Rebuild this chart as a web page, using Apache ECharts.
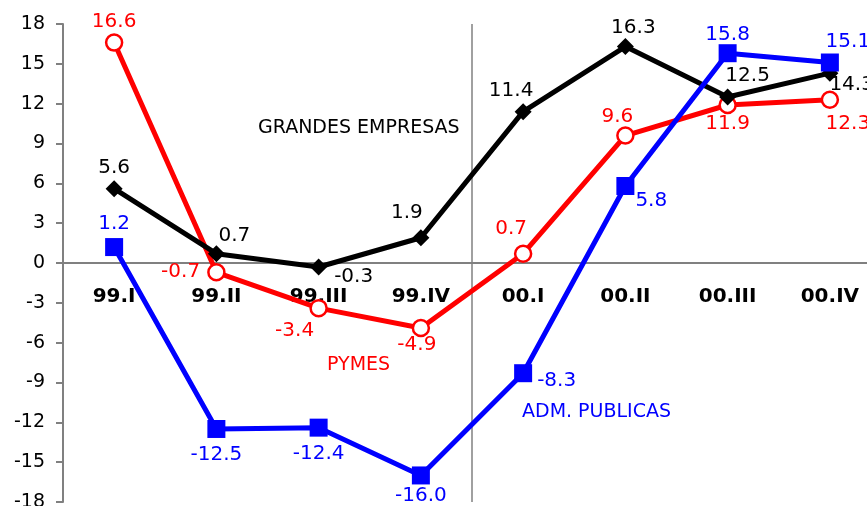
<!DOCTYPE html>
<html>
<head>
<meta charset="utf-8">
<script src="https://cdn.jsdelivr.net/npm/echarts@6/dist/echarts.min.js"></script>
<style>
  html, body { margin: 0; padding: 0; background: #fff; }
  #chart { width: 867px; height: 506px; }
</style>
</head>
<body>
<div id="chart"></div>
<script>
// trimestres
const quarters = ['99.I', '99.II', '99.III', '99.IV', '00.I', '00.II', '00.III', '00.IV']
// series
const grandes = [5.6, 0.7, -0.3, 1.9, 11.4, 16.3, 12.5, 14.3]
const pymes = [16.6, -0.7, -3.4, -4.9, 0.7, 9.6, 11.9, 12.3]
const admPublicas = [1.2, -12.5, -12.4, -16.0, -8.3, 5.8, 15.8, 15.1]
// eje y
const yMin = -18
const yMax = 18
const yStep = 3

const font = 'DejaVu Sans'

// colocacion de etiquetas por punto: [position, offsetX, offsetY]
const lblGrandes = [['top', 0, 3], ['top', 18, 6], ['right', 2, 10], ['top', -14, -1], ['top', -12, 3], ['top', 8, 5], ['top', 20, 2], ['right', -14, 12]]
const lblPymes = [['top', 0, 3], ['left', -2, 0], ['bottom', -24, -2], ['bottom', -4, -8], ['top', -12, -1], ['top', -8, 6], ['bottom', 0, -5], ['bottom', 18, 0]]
const lblAdm = [['top', 0, 1], ['bottom', 0, 2], ['bottom', 0, 2], ['bottom', 0, -4], ['right', 0, 8], ['right', -4, 15], ['top', 0, 6], ['top', 18, 3]]

function buildData(values, lbls) {
  return values.map((v, i) => ({
    value: v,
    label: { position: lbls[i][0], offset: [lbls[i][1], lbls[i][2]] }
  }))
}

function makeSeries(name, values, lbls, color, symbol, size, hollow) {
  return {
    name: name,
    type: 'line',
    data: buildData(values, lbls),
    symbol: symbol,
    symbolSize: size,
    showAllSymbol: true,
    lineStyle: { color: color, width: 5 },
    itemStyle: hollow
      ? { color: '#fff', borderColor: color, borderWidth: 2.5 }
      : { color: color, borderWidth: 0 },
    label: {
      show: true,
      color: color,
      fontFamily: font,
      fontSize: 20,
      distance: 5,
      formatter: (p) => p.value.toFixed(1)
    },
    emphasis: { disabled: true },
    animation: false
  }
}

const chart = echarts.init(document.getElementById('chart'))

const gridTop = 24
const gridBottom = 4
const plotH = 506 - gridTop - gridBottom

const option = {
  backgroundColor: '#fff',
  grid: { left: 63, right: -14, top: gridTop, bottom: gridBottom, containLabel: false, outerBoundsMode: 'none' },
  xAxis: [
    {
      type: 'category',
      data: quarters,
      boundaryGap: true,
      position: 'bottom',
      // eje x sobre el cero
      offset: -plotH * (0 - yMin) / (yMax - yMin),
      axisLine: { onZero: false, lineStyle: { color: '#808080', width: 2 } },
      axisTick: { show: false },
      axisLabel: {
        color: '#000',
        fontFamily: font,
        fontWeight: 'bold',
        fontSize: 20,
        margin: 24
      },
      splitLine: { show: false }
    },
    {
      // solo para la linea vertical entre 99.IV y 00.I
      type: 'value',
      min: 0,
      max: 8,
      interval: 4,
      position: 'top',
      axisLine: { show: false },
      axisTick: { show: false },
      axisLabel: { show: false },
      splitLine: { show: true, lineStyle: { color: '#808080', width: 1.5 } }
    }
  ],
  yAxis: {
    type: 'value',
    min: yMin,
    max: yMax,
    interval: yStep,
    axisLine: { show: true, onZero: false, lineStyle: { color: '#808080', width: 2 } },
    axisTick: { show: true, length: 7, lineStyle: { color: '#808080', width: 2 } },
    axisLabel: { color: '#000', fontFamily: font, fontSize: 19, margin: 18 },
    splitLine: { show: false }
  },
  graphic: [
    { type: 'text', left: 258, top: 119, style: { text: 'GRANDES EMPRESAS', fill: '#000', font: '19px "DejaVu Sans"' } },
    { type: 'text', left: 327, top: 356, style: { text: 'PYMES', fill: '#ff0000', font: '19px "DejaVu Sans"' } },
    { type: 'text', left: 522, top: 403, style: { text: 'ADM. PUBLICAS', fill: '#0000ff', font: '19px "DejaVu Sans"' } }
  ],
  series: [
    makeSeries('PYMES', pymes, lblPymes, '#ff0000', 'circle', 16, true),
    makeSeries('GRANDES EMPRESAS', grandes, lblGrandes, '#000000', 'diamond', 17, false),
    makeSeries('ADM. PUBLICAS', admPublicas, lblAdm, '#0000ff', 'rect', 18, false)
  ]
}

chart.setOption(option)
</script>
</body>
</html>
